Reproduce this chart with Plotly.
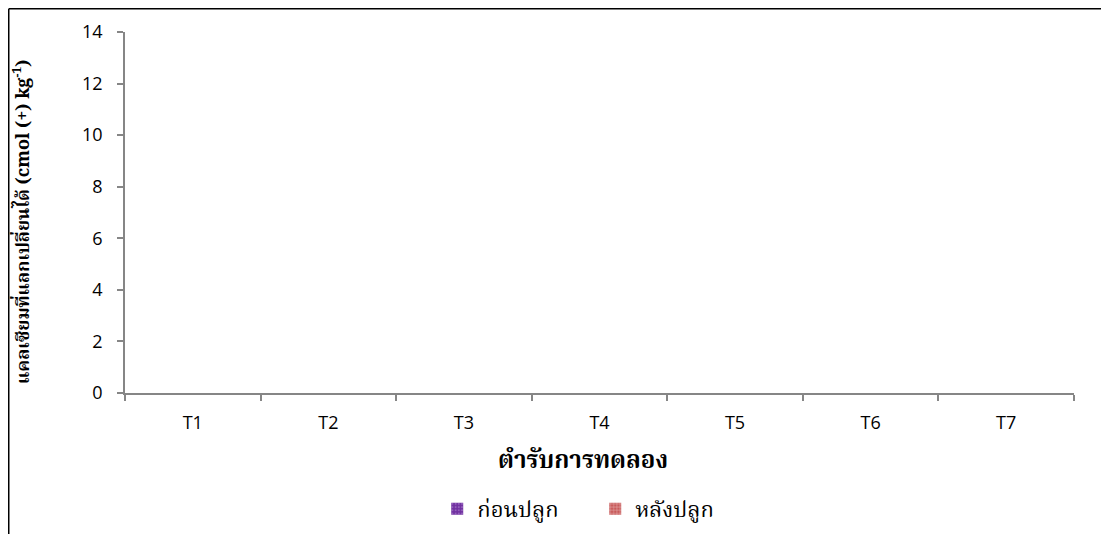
import plotly.graph_objects as go

categories = ["T1", "T2", "T3", "T4", "T5", "T6", "T7"]
before_planting = [0, 0, 0, 0, 0, 0, 0]
after_planting = [0, 0, 0, 0, 0, 0, 0]
series_names = ["ก่อนปลูก", "หลังปลูก"]
y_ticks = [0, 2, 4, 6, 8, 10, 12, 14]
x_title = "<b>ตำรับการทดลอง</b>"
y_title = "<b>แคลเซียมที่แลกเปลี่ยนได้ (cmol (+) kg<sup>-1</sup>)</b>"

thai_font = "Noto Serif Thai, Noto Sans Thai, Liberation Serif, serif"

fig = go.Figure()
fig.add_trace(go.Bar(
    x=categories, y=before_planting, name=series_names[0],
    marker=dict(color="#7030A0", line=dict(width=0),
                pattern=dict(shape=".", fgcolor="#B58ED6", bgcolor="#7030A0", size=4, solidity=0.3)),
))
fig.add_trace(go.Bar(
    x=categories, y=after_planting, name=series_names[1],
    marker=dict(color="#C85A5A", line=dict(width=0),
                pattern=dict(shape="+", fgcolor="#FFFFFF", bgcolor="#C85A5A", size=4, solidity=0.3)),
))

axis_color = "#868686"
fig.update_layout(
    width=1101, height=526,
    margin=dict(l=117, r=35, t=24, b=141, autoexpand=False),
    paper_bgcolor="white", plot_bgcolor="white",
    showlegend=True,
    legend=dict(orientation="h", x=0.329, xanchor="left", y=-0.321, yanchor="middle",
                font=dict(family=thai_font, size=22, color="black"),
                itemwidth=30, entrywidth=113, traceorder="normal"),
    xaxis=dict(
        showline=True, linecolor=axis_color, linewidth=1.5,
        ticks="outside", tickson="boundaries", ticklen=6, tickcolor=axis_color, tickwidth=1.5,
        tickfont=dict(family="Open Sans, Lato, sans-serif", size=18, color="black"),
        ticklabelstandoff=13,
        showgrid=False, automargin=False,
    ),
    yaxis=dict(
        range=[0, 14], tickvals=y_ticks,
        showline=True, linecolor=axis_color, linewidth=1.5,
        ticks="outside", ticklen=6, tickcolor=axis_color, tickwidth=1.5,
        tickfont=dict(family="Open Sans, Lato, sans-serif", size=18, color="black"),
        ticklabelstandoff=11,
        showgrid=False, zeroline=False, automargin=False,
    ),
    annotations=[
        dict(text=x_title, xref="paper", yref="paper", x=0.4826, y=-0.191,
             xanchor="center", yanchor="middle", showarrow=False,
             font=dict(family=thai_font, size=24, color="black")),
        dict(text=y_title, xref="paper", yref="paper", x=-0.1064, y=0.4737, textangle=-90,
             xanchor="center", yanchor="middle", showarrow=False,
             font=dict(family=thai_font, size=18, color="black")),
    ],
    shapes=[
        dict(type="line", xref="paper", yref="paper", x0=-0.1225, x1=1.2, y0=1.0644, y1=1.0644,
             line=dict(color="black", width=1.5)),
        dict(type="line", xref="paper", yref="paper", x0=-0.1225, x1=-0.1225, y0=1.0644, y1=-0.6,
             line=dict(color="black", width=1.5)),
    ],
)

fig.write_html("out.html")
